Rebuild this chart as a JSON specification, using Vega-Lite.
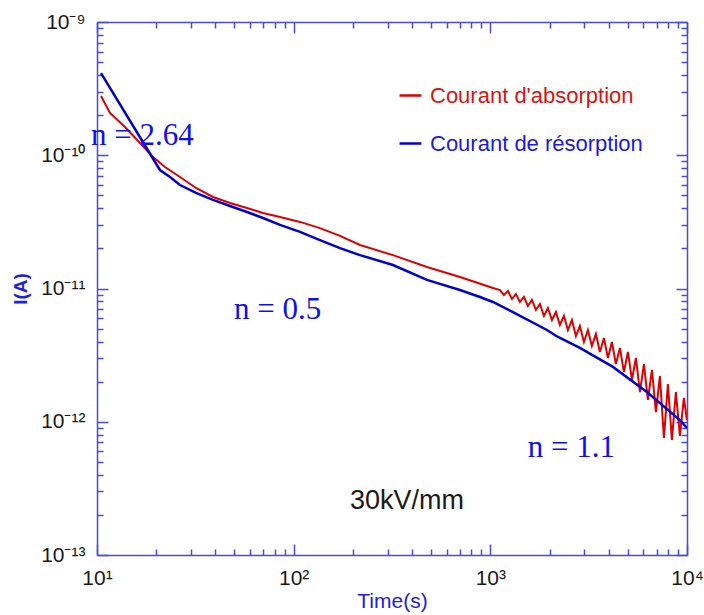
{
  "$schema": "https://vega.github.io/schema/vega-lite/v6.json",
  "autosize": "none",
  "width": 590,
  "height": 533,
  "padding": {"left": 97, "top": 22, "right": 17, "bottom": 60},
  "background": "white",
  "config": {"view": {"stroke": null}, "font": "Liberation Sans"},
  "datasets": {
    "absorption": [
      {"t": 10.48, "I": 2.784e-10, "series": "Courant d'absorption"},
      {"t": 11.64, "I": 2.075e-10, "series": "Courant d'absorption"},
      {"t": 13.88, "I": 1.629e-10, "series": "Courant d'absorption"},
      {"t": 16.54, "I": 1.236e-10, "series": "Courant d'absorption"},
      {"t": 19.26, "I": 9.70e-11, "series": "Courant d'absorption"},
      {"t": 22.17, "I": 8.16e-11, "series": "Courant d'absorption"},
      {"t": 26.42, "I": 6.87e-11, "series": "Courant d'absorption"},
      {"t": 31.87, "I": 5.68e-11, "series": "Courant d'absorption"},
      {"t": 38.88, "I": 4.86e-11, "series": "Courant d'absorption"},
      {"t": 47.45, "I": 4.38e-11, "series": "Courant d'absorption"},
      {"t": 57.88, "I": 4.02e-11, "series": "Courant d'absorption"},
      {"t": 69.8, "I": 3.69e-11, "series": "Courant d'absorption"},
      {"t": 85.2, "I": 3.44e-11, "series": "Courant d'absorption"},
      {"t": 107.7, "I": 3.16e-11, "series": "Courant d'absorption"},
      {"t": 136.0, "I": 2.84e-11, "series": "Courant d'absorption"},
      {"t": 172.0, "I": 2.48e-11, "series": "Courant d'absorption"},
      {"t": 217.4, "I": 2.12e-11, "series": "Courant d'absorption"},
      {"t": 319.8, "I": 1.78e-11, "series": "Courant d'absorption"},
      {"t": 476.1, "I": 1.45e-11, "series": "Courant d'absorption"},
      {"t": 700.8, "I": 1.22e-11, "series": "Courant d'absorption"},
      {"t": 1031, "I": 1.01e-11, "series": "Courant d'absorption"},
      {"t": 1119, "I": 9.74e-12, "series": "Courant d'absorption"},
      {"t": 1172, "I": 8.94e-12, "series": "Courant d'absorption"},
      {"t": 1229, "I": 9.58e-12, "series": "Courant d'absorption"},
      {"t": 1288, "I": 8.34e-12, "series": "Courant d'absorption"},
      {"t": 1349, "I": 9.09e-12, "series": "Courant d'absorption"},
      {"t": 1414, "I": 7.92e-12, "series": "Courant d'absorption"},
      {"t": 1482, "I": 8.64e-12, "series": "Courant d'absorption"},
      {"t": 1553, "I": 7.39e-12, "series": "Courant d'absorption"},
      {"t": 1627, "I": 8.20e-12, "series": "Courant d'absorption"},
      {"t": 1705, "I": 6.90e-12, "series": "Courant d'absorption"},
      {"t": 1787, "I": 7.65e-12, "series": "Courant d'absorption"},
      {"t": 1873, "I": 6.22e-12, "series": "Courant d'absorption"},
      {"t": 1963, "I": 7.14e-12, "series": "Courant d'absorption"},
      {"t": 2057, "I": 5.80e-12, "series": "Courant d'absorption"},
      {"t": 2155, "I": 6.66e-12, "series": "Courant d'absorption"},
      {"t": 2258, "I": 5.32e-12, "series": "Courant d'absorption"},
      {"t": 2367, "I": 6.22e-12, "series": "Courant d'absorption"},
      {"t": 2480, "I": 4.88e-12, "series": "Courant d'absorption"},
      {"t": 2599, "I": 5.80e-12, "series": "Courant d'absorption"},
      {"t": 2724, "I": 4.40e-12, "series": "Courant d'absorption"},
      {"t": 2854, "I": 5.23e-12, "series": "Courant d'absorption"},
      {"t": 2991, "I": 3.97e-12, "series": "Courant d'absorption"},
      {"t": 3134, "I": 4.88e-12, "series": "Courant d'absorption"},
      {"t": 3284, "I": 3.70e-12, "series": "Courant d'absorption"},
      {"t": 3443, "I": 4.55e-12, "series": "Courant d'absorption"},
      {"t": 3607, "I": 3.34e-12, "series": "Courant d'absorption"},
      {"t": 3780, "I": 4.25e-12, "series": "Courant d'absorption"},
      {"t": 3962, "I": 3.01e-12, "series": "Courant d'absorption"},
      {"t": 4152, "I": 3.97e-12, "series": "Courant d'absorption"},
      {"t": 4350, "I": 2.71e-12, "series": "Courant d'absorption"},
      {"t": 4560, "I": 3.58e-12, "series": "Courant d'absorption"},
      {"t": 4778, "I": 2.36e-12, "series": "Courant d'absorption"},
      {"t": 5007, "I": 3.34e-12, "series": "Courant d'absorption"},
      {"t": 5248, "I": 2.06e-12, "series": "Courant d'absorption"},
      {"t": 5499, "I": 3.01e-12, "series": "Courant d'absorption"},
      {"t": 5763, "I": 1.67e-12, "series": "Courant d'absorption"},
      {"t": 6039, "I": 2.71e-12, "series": "Courant d'absorption"},
      {"t": 6328, "I": 1.46e-12, "series": "Courant d'absorption"},
      {"t": 6632, "I": 2.45e-12, "series": "Courant d'absorption"},
      {"t": 6950, "I": 1.18e-12, "series": "Courant d'absorption"},
      {"t": 7282, "I": 2.20e-12, "series": "Courant d'absorption"},
      {"t": 7632, "I": 7.55e-13, "series": "Courant d'absorption"},
      {"t": 7998, "I": 1.92e-12, "series": "Courant d'absorption"},
      {"t": 8380, "I": 7.30e-13, "series": "Courant d'absorption"},
      {"t": 8781, "I": 1.67e-12, "series": "Courant d'absorption"},
      {"t": 9203, "I": 7.82e-13, "series": "Courant d'absorption"},
      {"t": 9643, "I": 1.51e-12, "series": "Courant d'absorption"},
      {"t": 9990, "I": 1.03e-12, "series": "Courant d'absorption"}
    ],
    "resorption": [
      {"t": 10.48, "I": 4.14e-10, "series": "Courant de résorption"},
      {"t": 19.04, "I": 9.70e-11, "series": "Courant de résorption"},
      {"t": 20.9, "I": 7.75e-11, "series": "Courant de résorption"},
      {"t": 23.5, "I": 6.87e-11, "series": "Courant de résorption"},
      {"t": 26.42, "I": 5.98e-11, "series": "Courant de résorption"},
      {"t": 31.87, "I": 5.21e-11, "series": "Courant de résorption"},
      {"t": 38.88, "I": 4.62e-11, "series": "Courant de résorption"},
      {"t": 47.45, "I": 4.16e-11, "series": "Courant de résorption"},
      {"t": 57.88, "I": 3.75e-11, "series": "Courant de résorption"},
      {"t": 69.8, "I": 3.38e-11, "series": "Courant de résorption"},
      {"t": 85.2, "I": 3.00e-11, "series": "Courant de résorption"},
      {"t": 107.7, "I": 2.66e-11, "series": "Courant de résorption"},
      {"t": 136.0, "I": 2.31e-11, "series": "Courant de résorption"},
      {"t": 172.0, "I": 2.01e-11, "series": "Courant de résorption"},
      {"t": 217.4, "I": 1.78e-11, "series": "Courant de résorption"},
      {"t": 319.8, "I": 1.50e-11, "series": "Courant de résorption"},
      {"t": 476.1, "I": 1.16e-11, "series": "Courant de résorption"},
      {"t": 700.8, "I": 9.74e-12, "series": "Courant de résorption"},
      {"t": 885.5, "I": 8.64e-12, "series": "Courant de résorption"},
      {"t": 1031, "I": 7.92e-12, "series": "Courant de résorption"},
      {"t": 1303, "I": 6.66e-12, "series": "Courant de résorption"},
      {"t": 1940, "I": 4.88e-12, "series": "Courant de résorption"},
      {"t": 2207, "I": 4.33e-12, "series": "Courant de résorption"},
      {"t": 2854, "I": 3.58e-12, "series": "Courant de résorption"},
      {"t": 4201, "I": 2.58e-12, "series": "Courant de résorption"},
      {"t": 6253, "I": 1.67e-12, "series": "Courant de résorption"},
      {"t": 9203, "I": 1.03e-12, "series": "Courant de résorption"},
      {"t": 9990, "I": 8.98e-13, "series": "Courant de résorption"}
    ],
    "slopes": [
      {"t": 17.03, "I": 1.394e-10, "note": "n = 2.64"},
      {"t": 82.8, "I": 6.90e-12, "note": "n = 0.5"},
      {"t": 2584, "I": 6.35e-13, "note": "n = 1.1"}
    ],
    "field": [
      {"t": 376.7, "I": 2.543e-13, "note": "30kV/mm"}
    ]
  },
  "resolve": {"axis": {"x": "independent", "y": "independent"}},
  "layer": [
    {
      "data": {"name": "absorption"},
      "mark": {"type": "line", "strokeWidth": 2, "clip": true},
      "encoding": {
        "x": {
          "field": "t", "type": "quantitative",
          "scale": {"type": "log", "domain": [10, 10000], "nice": false},
          "axis": {
            "orient": "bottom",
            "title": "Time(s)",
            "values": [10,20,30,40,50,60,70,80,90,100,200,300,400,500,600,700,800,900,1000,2000,3000,4000,5000,6000,7000,8000,9000,10000],
            "labelExpr": "datum.value == 10 ? '10¹' : datum.value == 100 ? '10²' : datum.value == 1000 ? '10³' : datum.value == 10000 ? '10⁴' : ''",
            "labelFontSize": 21, "labelColor": "#1a1a1a", "labelFlush": false, "labelOverlap": false, "labelPadding": 23,
            "domainColor": "#4a4ade", "domainWidth": 1.5, "tickColor": "#4a4ade", "tickWidth": 1.5,
            "tickSize": {"condition": {"test": "abs(log(datum.value)/LN10 - round(log(datum.value)/LN10)) < 0.01", "value": -11}, "value": -6},
            "titleColor": "#2020e0", "titleFontSize": 21, "titleFontWeight": "normal", "titleY": 35, "titleBaseline": "top", "grid": false
          }
        },
        "y": {
          "field": "I", "type": "quantitative",
          "scale": {"type": "log", "domain": [1e-13, 1e-9], "nice": false},
          "axis": {
            "orient": "left",
            "title": "I(A)",
            "values": [1e-13,2e-13,3e-13,4e-13,5e-13,6e-13,7e-13,8e-13,9e-13,1e-12,2e-12,3e-12,4e-12,5e-12,6e-12,7e-12,8e-12,9e-12,1e-11,2e-11,3e-11,4e-11,5e-11,6e-11,7e-11,8e-11,9e-11,1e-10,2e-10,3e-10,4e-10,5e-10,6e-10,7e-10,8e-10,9e-10,1e-9],
            "labelExpr": "datum.value == 1e-9 ? '10⁻⁹' : datum.value == 1e-10 ? '10⁻¹⁰' : datum.value == 1e-11 ? '10⁻¹¹' : datum.value == 1e-12 ? '10⁻¹²' : datum.value == 1e-13 ? '10⁻¹³' : ''",
            "labelFontSize": 21, "labelColor": "#1a1a1a", "labelOverlap": false, "labelPadding": 23,
            "domainColor": "#4a4ade", "domainWidth": 1.5, "tickColor": "#4a4ade", "tickWidth": 1.5,
            "tickSize": {"condition": {"test": "abs(log(datum.value)/LN10 - round(log(datum.value)/LN10)) < 0.01", "value": -11}, "value": -6},
            "titleColor": "#2020e0", "titleFontSize": 19, "titleFontWeight": "bold", "titlePadding": 10, "grid": false
          }
        },
        "color": {
          "field": "series", "type": "nominal",
          "scale": {"domain": ["Courant d'absorption", "Courant de résorption"], "range": ["#dd0000", "#0000d0"]},
          "legend": {
            "orient": "none", "legendX": 301, "legendY": 61, "title": null,
            "symbolType": "stroke", "symbolStrokeWidth": 2.5, "symbolSize": 480,
            "labelFontSize": 22, "labelLimit": 400, "rowPadding": 24, "padding": 0, "labelOffset": 7,
            "direction": "vertical",
            "encode": {"labels": {"update": {"fill": {"signal": "indexof(datum.value, 'absorption') >= 0 ? '#dd1111' : '#1a1ae0'"}}}}
          }
        }
      }
    },
    {
      "data": {"name": "resorption"},
      "mark": {"type": "line", "strokeWidth": 2.5, "clip": true},
      "encoding": {
        "x": {
          "field": "t", "type": "quantitative",
          "scale": {"type": "log", "domain": [10, 10000], "nice": false},
          "axis": {
            "orient": "top", "title": null, "labels": false,
            "values": [10,20,30,40,50,60,70,80,90,100,200,300,400,500,600,700,800,900,1000,2000,3000,4000,5000,6000,7000,8000,9000,10000],
            "domainColor": "#4a4ade", "domainWidth": 1.5, "tickColor": "#4a4ade", "tickWidth": 1.5,
            "tickSize": {"condition": {"test": "abs(log(datum.value)/LN10 - round(log(datum.value)/LN10)) < 0.01", "value": -11}, "value": -6},
            "grid": false
          }
        },
        "y": {
          "field": "I", "type": "quantitative",
          "scale": {"type": "log", "domain": [1e-13, 1e-9], "nice": false},
          "axis": {
            "orient": "right", "title": null, "labels": false,
            "values": [1e-13,2e-13,3e-13,4e-13,5e-13,6e-13,7e-13,8e-13,9e-13,1e-12,2e-12,3e-12,4e-12,5e-12,6e-12,7e-12,8e-12,9e-12,1e-11,2e-11,3e-11,4e-11,5e-11,6e-11,7e-11,8e-11,9e-11,1e-10,2e-10,3e-10,4e-10,5e-10,6e-10,7e-10,8e-10,9e-10,1e-9],
            "domainColor": "#4a4ade", "domainWidth": 1.5, "tickColor": "#4a4ade", "tickWidth": 1.5,
            "tickSize": {"condition": {"test": "abs(log(datum.value)/LN10 - round(log(datum.value)/LN10)) < 0.01", "value": -11}, "value": -6},
            "grid": false
          }
        },
        "color": {"field": "series", "type": "nominal"}
      }
    },
    {
      "data": {"name": "slopes"},
      "mark": {"type": "text", "font": "Liberation Serif", "fontSize": 31, "color": "#1010ee", "align": "center", "baseline": "middle"},
      "encoding": {
        "x": {"field": "t", "type": "quantitative", "axis": null},
        "y": {"field": "I", "type": "quantitative", "axis": null},
        "text": {"field": "note"}
      }
    },
    {
      "data": {"name": "field"},
      "mark": {"type": "text", "font": "Liberation Sans", "fontSize": 27, "color": "#1a1a1a", "align": "center", "baseline": "middle"},
      "encoding": {
        "x": {"field": "t", "type": "quantitative", "axis": null},
        "y": {"field": "I", "type": "quantitative", "axis": null},
        "text": {"field": "note"}
      }
    }
  ]
}
